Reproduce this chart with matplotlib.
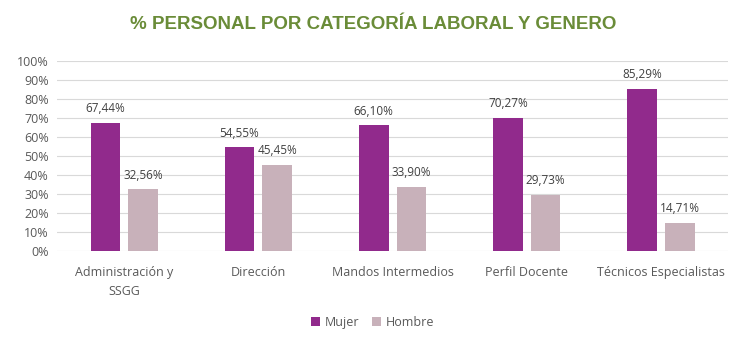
import matplotlib.pyplot as plt
import numpy as np

categorias = ["Administración y\nSSGG", "Dirección", "Mandos Intermedios", "Perfil Docente", "Técnicos Especialistas"]
mujer = [67.44, 54.55, 66.10, 70.27, 85.29]
hombre = [32.56, 45.45, 33.90, 29.73, 14.71]

col_mujer = "#912A8C"
col_hombre = "#C8B1BA"
col_texto = "#595959"

plt.rcParams['font.family'] = ['Open Sans', 'DejaVu Sans']

fig = plt.figure(figsize=(7.46, 3.47), dpi=100)
ax = fig.add_axes([0.0764, 0.2767, 0.8996, 0.5473])

x = np.arange(len(categorias))
w = 0.22
gap = 0.03
b1 = ax.bar(x - w/2 - gap, mujer, w, color=col_mujer, label="Mujer", zorder=3)
b2 = ax.bar(x + w/2 + gap, hombre, w, color=col_hombre, label="Hombre", zorder=3)

def fmt(v):
    return f"{v:.2f}".replace(".", ",") + "%"

for bars, vals in ((b1, mujer), (b2, hombre)):
    for b, v in zip(bars, vals):
        ax.text(b.get_x() + b.get_width()/2, v + 4, fmt(v), ha="center", va="bottom",
                fontsize=8.5, color="#404040")

ax.set_xlim(-0.5, len(categorias) - 0.5)
ax.set_ylim(0, 100)
ax.set_yticks(np.arange(0, 101, 10))
ax.set_yticklabels([f"{t}%" for t in range(0, 101, 10)])
ax.set_xticks(x)
ax.set_xticklabels(categorias, linespacing=1.6)
ax.tick_params(axis="both", length=0, colors=col_texto, labelsize=9)
ax.tick_params(axis="y", pad=6)
ax.tick_params(axis="x", pad=11)
ax.grid(axis="y", color="#D9D9D9", linewidth=0.8, zorder=0)
for s in ax.spines.values():
    s.set_visible(False)

fig.text(0.5, 0.93, "% PERSONAL POR CATEGORÍA LABORAL Y GENERO", ha="center", va="center",
         fontsize=13.5, fontweight="bold", color="#6A8C38", family=['Liberation Sans', 'DejaVu Sans'])

fig.legend(loc="center", bbox_to_anchor=(0.5, 0.07), ncol=2, frameon=False, fontsize=9,
           handlelength=0.7, handleheight=0.7, handletextpad=0.4, columnspacing=1.0,
           labelcolor=col_texto)

fig.savefig("out.png", dpi=100)
